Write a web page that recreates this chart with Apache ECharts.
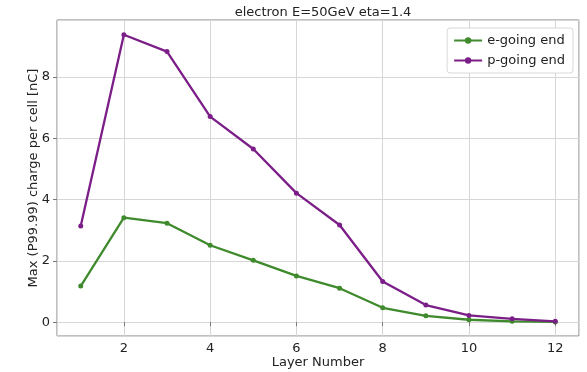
<!DOCTYPE html>
<html>
<head>
<meta charset="utf-8">
<script src="https://cdn.jsdelivr.net/npm/echarts@6/dist/echarts.min.js"></script>
<style>html,body{margin:0;padding:0;background:#fff}#c{width:587px;height:372px}</style>
</head>
<body>
<div id="c"></div>
<script>
const layers = [1,2,3,4,5,6,7,8,9,10,11,12];
const eGoing = [1.18,3.41,3.23,2.51,2.02,1.51,1.11,0.47,0.21,0.08,0.03,0.01];
const pGoing = [3.14,9.38,8.83,6.71,5.65,4.21,3.17,1.33,0.56,0.22,0.11,0.03];
const seriesNames = ['e-going end','p-going end'];
const colors = ['#3f8a2c','#7b1e87'];
const titleText = 'electron E=50GeV eta=1.4';
const xName = 'Layer Number';
const yName = 'Max (P99.99) charge per cell [nC]';

const chart = echarts.init(document.getElementById('c'), null, {renderer:'canvas'});
const font = 'DejaVu Sans';
function pts(arr){ return layers.map((x,i)=>[x,arr[i]]); }
chart.setOption({
  animation:false,
  backgroundColor:'#fff',
  title:{text:titleText,left:318,top:1,textAlign:'center',textStyle:{fontFamily:font,fontSize:13,fontWeight:'normal',color:'#222'}},
  legend:{
    orient:'vertical',right:14,top:28,
    data:seriesNames,
    itemWidth:28,itemHeight:8,itemGap:7,
    padding:[6,8,6,6],
    borderColor:'#d8d8d8',borderWidth:1,borderRadius:3,backgroundColor:'#fff',
    textStyle:{fontFamily:font,fontSize:13,color:'#222'}
  },
  grid:{left:57,right:8,top:20,bottom:36,outerBoundsMode:'none',containLabel:false,show:true,borderColor:'#808080',borderWidth:1,backgroundColor:'transparent'},
  xAxis:{
    type:'value',min:0.45,max:12.55,splitNumber:6,
    name:xName,nameLocation:'middle',nameGap:20,nameMoveOverlap:false,
    nameTextStyle:{fontFamily:font,fontSize:13,color:'#222'},
    axisLine:{show:false},axisTick:{show:true,length:4,lineStyle:{color:'#777'}},
    axisLabel:{fontFamily:font,fontSize:13,color:'#222',margin:6,showMinLabel:false,showMaxLabel:false},
    splitLine:{show:true,lineStyle:{color:'#d6d6d6',width:1}}
  },
  yAxis:{
    type:'value',min:-0.45,max:9.86,splitNumber:5,
    name:yName,nameLocation:'middle',nameGap:17,nameMoveOverlap:false,
    nameTextStyle:{fontFamily:font,fontSize:13,color:'#222'},
    axisLine:{show:false},axisTick:{show:true,length:4,lineStyle:{color:'#777'}},
    axisLabel:{fontFamily:font,fontSize:13,color:'#222',margin:7,showMinLabel:false,showMaxLabel:false},
    splitLine:{show:true,lineStyle:{color:'#d6d6d6',width:1}}
  },
  series:[
    {name:seriesNames[0],type:'line',data:pts(eGoing),color:colors[0],lineStyle:{width:2.3},symbol:'circle',symbolSize:5,itemStyle:{color:colors[0]}},
    {name:seriesNames[1],type:'line',data:pts(pGoing),color:colors[1],lineStyle:{width:2.3},symbol:'circle',symbolSize:5,itemStyle:{color:colors[1]}}
  ]
});
</script>
</body>
</html>
